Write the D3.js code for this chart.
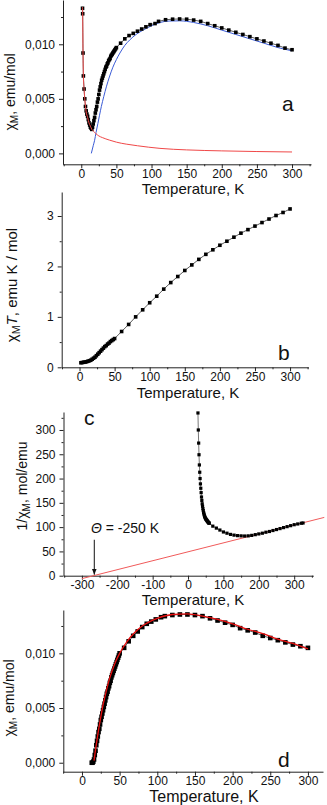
<!DOCTYPE html>
<html>
<head>
<meta charset="utf-8">
<script src="https://cdn.jsdelivr.net/npm/d3@7"></script>
<style>
  body { margin: 0; background: #fff; }
  text { font-family: "Liberation Sans", Arial, sans-serif; fill: #111; }
</style>
</head>
<body>
<svg width="327" height="805"></svg>
<script>
// ---- panel a : chi_M vs T, with impurity (red) and chain (blue) contributions
const tA = [1.8,2,2.5,3,4,5,6,7,8,9,10,11,12,13,14,15,16,17,18,19,20,21,22,23,24,25,26,27,28,29,30,
  31,32,33,34,35,36,37,38,39,40,41,42,43,44,45,46,47,48,49,50,
  56,62,68,74,80,86,92,98,105,110,120,130,140,150,160,170,180,190,200,210,220,230,240,250,260,270,280,290,300];
const chiA = [0.0133,0.0128,0.0092,0.0071,0.0059,0.0050,0.0043,0.0039,0.0036,0.0034,0.0031,0.0028,0.0026,0.0024,0.0023,0.0022,
  0.0024,0.0027,0.0030,0.0033,0.0037,0.0040,0.0043,0.0047,0.0050,0.0054,0.0058,0.0061,0.0064,0.0067,0.0069,
  0.0071,0.0073,0.0075,0.0077,0.0079,0.0080,0.0082,0.0083,0.0085,0.0086,0.0087,0.0089,0.0090,0.0091,0.0092,0.0093,0.0094,0.0095,0.0096,0.0097,
  0.0101,0.0105,0.0108,0.0110,0.0112,0.0114,0.0116,0.0118,0.0119,0.0121,0.01225,0.0123,0.01232,0.0123,0.01222,0.0121,0.0119,0.0117,0.0115,
  0.0113,0.0111,0.0109,0.0107,0.0105,0.0103,0.0101,0.0099,0.00965,0.0095];
const tImpA = [1.8,2,2.5,3,4,5,6,7,9,11,13,15,18,21,25,30,40,50,64,80,112,150,200,250,300];
const chiImpA = [0.0134,0.0128,0.0092,0.0071,0.0059,0.0050,0.0043,0.0038,0.0033,0.0028,0.0025,0.0022,0.0020,0.0018,0.0016,
  0.00145,0.00122,0.00103,0.00085,0.0007,0.00046,0.00032,0.00023,0.00017,0.00013];
const tChainA = [14.3,17,19,21,23.7,26,28.6,32,35.7,40,45,50,55,62,69,78,88,100,112,125,140,160,180,200,220,240,260,280,300];
const chiChainA = [0.0000,0.0007,0.0012,0.0019,0.00275,0.0035,0.0043,0.0052,0.0061,0.0070,0.0079,0.0086,0.0092,0.0099,0.0104,
  0.0109,0.0113,0.0117,0.0120,0.01213,0.01215,0.0120,0.0117,0.0113,0.0109,0.0105,0.0101,0.0097,0.0094];

// ---- panel b : chi_M T vs T
const tB = [2,4,6,8,10,12,14,16,18,20,22,24,26,28,30,32,34,36,38,40,42,44,46,48,50,
  60,70,80,90,100,110,120,130,140,150,160,170,180,190,200,210,220,230,240,250,260,270,280,290,300];
const chiTB = [0.09,0.095,0.10,0.105,0.11,0.12,0.13,0.14,0.16,0.18,0.20,0.23,0.26,0.29,0.32,0.35,0.38,0.41,0.43,0.46,0.48,0.51,0.53,0.55,0.57,
  0.71,0.85,1.00,1.14,1.28,1.41,1.55,1.68,1.80,1.92,2.03,2.14,2.24,2.33,2.42,2.50,2.58,2.66,2.73,2.80,2.87,2.94,3.01,3.07,3.14];

// ---- panel c : 1/chi_M vs T, Curie-Weiss line
const tC = [28,29,30,31,32,33,34,35,36,37,38,39,40,41,42,43,44,45,46,47,48,49,50,51,52,53,54,55,56,57,58,59,60,
  70,80,90,100,110,120,130,140,150,160,170,180,190,200,210,220,230,240,250,260,270,280,290,300,310,320,325];
const invChiC = [335,300,273,249,228,213,200,189,180,171,162,155,148,143,138,134,130,127,124.5,122,120,118.5,117,116,115,114,113,112,111,110,109,108.5,108,
  102,98,94,90,87.5,85,83.5,82.5,82,81.7,82,83,84.5,86,87.5,89.5,91,93,95,97,99,101,103,105,106.5,108,108.5];
const tLineC = [-300,385];
const invLineC = [-6,120];
const thetaT = -265;
const arrowTop = 74;

// ---- panel d : chain contribution with fit
const tD = [13,14,15,16,17,18,19,20,21,22,23,24,25,26,27,28,29,30,31,32,33,34,35,36,37,38,39,40,41,42,43,44,45,46,47,48,49,50,
  56,62,68,74,80,86,92,98,105,110,120,130,140,150,160,170,180,190,200,210,220,230,240,250,260,270,280,290,300];
const chiD = [0.0000,0.0000,0.0001,0.0003,0.0007,0.0011,0.0016,0.0020,0.0024,0.0028,0.0031,0.0035,0.0039,0.0042,0.0045,0.0048,0.0051,0.0054,
  0.0057,0.0060,0.0063,0.0065,0.0068,0.0070,0.0073,0.0075,0.0078,0.0080,0.0082,0.0084,0.0086,0.0088,0.0090,0.0092,0.0094,0.0096,0.0098,0.0100,
  0.0105,0.0111,0.0116,0.0120,0.0124,0.0127,0.0129,0.0131,0.0133,0.0134,0.0135,0.01355,0.01355,0.0135,0.0134,0.0132,0.0130,0.0128,0.0126,
  0.0123,0.0121,0.0119,0.0116,0.0114,0.0112,0.0110,0.0108,0.01065,0.0105];
const tFitD = [16,18,20,22,25,28,30,35,40,45,50,60,70,80,90,100,120,140,160,180,200,220,240,260,280,300];
const chiFitD = [0.0002,0.0012,0.0021,0.0030,0.0042,0.0053,0.0059,0.0073,0.0084,0.0093,0.0100,0.0111,0.0119,0.0125,0.0129,0.0132,
  0.01355,0.0136,0.0134,0.0131,0.0127,0.0122,0.0118,0.0113,0.0109,0.0104];

const svg = d3.select("svg");
const comma = d => d3.format(".3f")(d).replace(".", ",");
const plain = d => String(d);

function range(a, b, s) { const r = []; for (let v = a; v <= b + 1e-9; v += s) r.push(+v.toFixed(6)); return r; }

// build one panel: scales, axes, titles
function panel(cfg) {
  const x = d3.scaleLinear().domain(cfg.xd).range([cfg.left, cfg.right]);
  const y = d3.scaleLinear().domain(cfg.yd).range([cfg.bottom, cfg.top]);
  const g = svg.append("g");

  g.append("g").attr("transform", `translate(0,${cfg.bottom})`)
    .call(d3.axisBottom(x).tickValues(cfg.xt).tickFormat(plain).tickSize(4).tickSizeOuter(0).tickPadding(cfg.xpad || 2));
  g.append("g").attr("transform", `translate(0,${cfg.bottom})`)
    .call(d3.axisBottom(x).tickValues(cfg.xm).tickFormat("").tickSize(2).tickSizeOuter(0))
    .select(".domain").remove();
  g.append("g").attr("transform", `translate(${cfg.left},0)`)
    .call(d3.axisLeft(y).tickValues(cfg.yt).tickFormat(cfg.yf).tickSize(4).tickSizeOuter(0).tickPadding(4));
  g.append("g").attr("transform", `translate(${cfg.left},0)`)
    .call(d3.axisLeft(y).tickValues(cfg.ym).tickFormat("").tickSize(2).tickSizeOuter(0))
    .select(".domain").remove();
  g.selectAll(".domain, .tick line").attr("stroke", "#222").attr("stroke-width", 1);
  g.selectAll(".tick text").attr("font-size", 12).attr("fill", "#111")
    .attr("font-family", "'Liberation Sans', Arial, sans-serif");

  g.append("text").attr("x", cfg.xtx).attr("y", cfg.xty).attr("text-anchor", "middle")
    .attr("font-size", cfg.xts).text("Temperature, K");

  const yt = g.append("text").attr("text-anchor", "middle").attr("font-size", cfg.yts)
    .attr("transform", `translate(${cfg.ytx},${cfg.yty}) rotate(-90)`);
  cfg.ylab.forEach(p => {
    const s = yt.append("tspan").text(p.t);
    if (p.sub) s.attr("font-size", cfg.yts * 0.72).attr("dy", 3);
    if (p.up) s.attr("dy", -3);
    if (p.it) s.attr("font-style", "italic");
  });

  g.append("text").attr("x", cfg.lx).attr("y", cfg.ly).attr("font-size", 21).text(cfg.letter);
  return { x, y, g };
}

function squares(p, tt, vv, size, linecol) {
  const pts = tt.map((t, i) => [t, vv[i]]);
  p.g.append("path").datum(pts).attr("fill", "none").attr("stroke", linecol).attr("stroke-width", 0.8)
    .attr("d", d3.line().x(d => p.x(d[0])).y(d => p.y(d[1])));
  p.g.append("g").selectAll("rect").data(pts).join("rect")
    .attr("x", d => p.x(d[0]) - size / 2).attr("y", d => p.y(d[1]) - size / 2)
    .attr("width", size).attr("height", size).attr("fill", "#000");
}

function curve(p, tt, vv, col, w) {
  const pts = tt.map((t, i) => [t, vv[i]]);
  p.g.append("path").datum(pts).attr("fill", "none").attr("stroke", col).attr("stroke-width", w)
    .attr("d", d3.line().curve(d3.curveMonotoneX).x(d => p.x(d[0])).y(d => p.y(d[1])));
}

// ---- a
const pa = panel({
  xd: [-26, 327], yd: [-0.001, 0.01406], left: 63, right: 311, top: 0, bottom: 164.3, xpad: 1.5,
  xt: range(0, 300, 50), xm: range(-25, 325, 50), yt: [0, 0.005, 0.010], ym: [0.0025, 0.0075, 0.0125], yf: comma,
  xtx: 193, xty: 194, xts: 15, ytx: 15, yty: 92, yts: 14,
  ylab: [{ t: "χ" }, { t: "M", sub: 1 }, { t: ", emu/mol", up: 1 }],
  lx: 282, ly: 111, letter: "a"
});
curve(pa, tChainA, chiChainA, "#3a5bd6", 1);
squares(pa, tA, chiA, 3.6, "#333");
curve(pa, tImpA, chiImpA, "#f04848", 1);

// ---- b
const pb = panel({
  xd: [-25.4, 326], yd: [0, 3.476], left: 61.7, right: 308.3, top: 192, bottom: 367.3, xpad: 1,
  xt: range(0, 300, 50), xm: range(-25, 325, 50), yt: [0, 1, 2, 3], ym: [0.5, 1.5, 2.5], yf: plain,
  xtx: 188, xty: 397.5, xts: 15, ytx: 17, yty: 285, yts: 15,
  ylab: [{ t: "χ" }, { t: "M", sub: 1 }, { t: "T", up: 1, it: 1 }, { t: ", emu K / mol" }],
  lx: 278, ly: 360, letter: "b"
});
squares(pb, tB, chiTB, 3.6, "#333");

// ---- c
const pc = panel({
  xd: [-352, 354], yd: [0, 337], left: 63.5, right: 313.3, top: 412, bottom: 575.7, xpad: 1,
  xt: range(-300, 300, 100), xm: range(-350, 350, 100), yt: range(0, 300, 50), ym: range(25, 325, 50), yf: plain,
  xtx: 193, xty: 605, xts: 15, ytx: 27, yty: 486, yts: 14,
  ylab: [{ t: "1/χ" }, { t: "M", sub: 1 }, { t: ", mol/emu", up: 1 }],
  lx: 84, ly: 425, letter: "c"
});
curve(pc, tLineC, invLineC, "#f05a5a", 1);
squares(pc, tC, invChiC, 3.2, "#555");
svg.append("defs").append("marker").attr("id", "ah").attr("viewBox", "0 0 10 10")
  .attr("refX", 10).attr("refY", 5).attr("markerWidth", 6).attr("markerHeight", 6).attr("orient", "auto")
  .append("path").attr("d", "M0,1 L10,5 L0,9 z").attr("fill", "#111");
pc.g.append("line").attr("x1", pc.x(thetaT)).attr("x2", pc.x(thetaT))
  .attr("y1", pc.y(arrowTop)).attr("y2", pc.y(0) - 1)
  .attr("stroke", "#111").attr("stroke-width", 1).attr("marker-end", "url(#ah)");
const th = pc.g.append("text").attr("x", 91).attr("y", 533).attr("font-size", 14);
th.append("tspan").attr("font-style", "italic").text("Θ");
th.append("tspan").text(" = -250 K");

// ---- d
const pd = panel({
  xd: [-24.8, 320], yd: [-0.00082, 0.01396], left: 63.3, right: 323, top: 610, bottom: 771.7, xpad: 1,
  xt: range(0, 300, 50), xm: range(-25, 325, 50).filter(v => v <= 320), yt: [0, 0.005, 0.010], ym: [0.0025, 0.0075, 0.0125], yf: comma,
  xtx: 204, xty: 802, xts: 16, ytx: 14, yty: 698, yts: 14,
  ylab: [{ t: "χ" }, { t: "M", sub: 1 }, { t: ", emu/mol", up: 1 }],
  lx: 278, ly: 767, letter: "d"
});
squares(pd, tD, chiD, 4.6, "#333");
curve(pd, tFitD, chiFitD, "#e81010", 1.3);
</script>
</body>
</html>
